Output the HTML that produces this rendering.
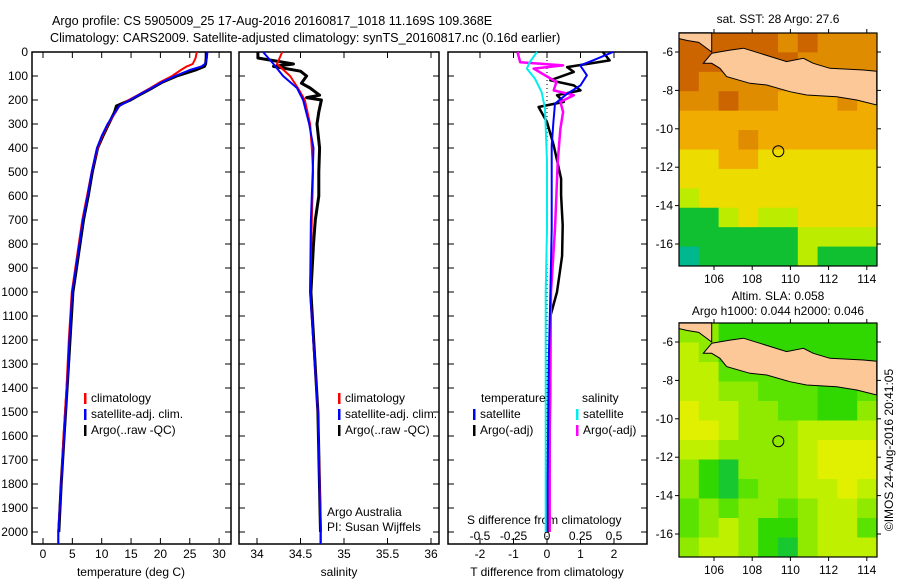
<!DOCTYPE html>
<html><head><meta charset="utf-8"><style>
html,body{margin:0;padding:0;background:#fff;}
svg{display:block;font-family:"Liberation Sans",sans-serif;}
text{font-size:12px;fill:#000;}
</style></head><body>
<svg id="chart" width="900" height="580" viewBox="0 0 900 580" xmlns="http://www.w3.org/2000/svg">
<text x="52" y="25" style="font-size:12.6px">Argo profile: CS 5905009_25 17-Aug-2016 20160817_1018 11.169S 109.368E</text>
<text x="50" y="42" style="font-size:12.6px">Climatology: CARS2009. Satellite-adjusted climatology: synTS_20160817.nc (0.16d earlier)</text>
<g id="g"></g>
</svg>
<script>
// ---------- data ----------
const depthTicks=[0,100,200,300,400,500,600,700,800,900,1000,1100,1200,1300,1400,1500,1600,1700,1800,1900,2000];
const tTicks=[0,5,10,15,20,25,30];
const sTicks=[34,34.5,35,35.5,36];
const tdTicks=[-2,-1,0,1,2];
const sdTicks=[-0.5,-0.25,0,0.25,0.5];
const sdTickLabels=["-0.5","-0.25","0","0.25","0.5"];
const tDepth=[0,25,50,60,75,100,125,150,175,200,225,250,300,350,400,500,600,700,800,900,1000,1200,1400,1600,1800,2000,2050];
const tClim=[26.2,26.0,25.5,24.5,23.5,22.0,20.0,18.3,16.5,14.6,13.0,12.4,11.1,10.1,9.3,8.3,7.5,6.7,6.1,5.5,4.9,4.4,4.0,3.5,3.1,2.6,2.6];
const tSat=[28,27.9,27.6,27,25,22.5,20.3,18.5,16.6,14.8,13.0,12.3,11.0,10.0,9.2,8.3,7.6,6.8,6.2,5.6,5.0,4.5,4.1,3.6,3.1,2.6,2.6];
const tArgo=[27.8,27.8,27.7,27.5,26,22.8,20.4,18.6,16.7,14.9,12.5,12.2,11.2,10.2,9.3,8.4,7.7,6.9,6.3,5.7,5.1,4.6,4.1,3.6,3.1,2.7];
const sDepth=[0,50,100,150,200,300,400,500,700,1000,1500,2000,2050];
const sClim=[34.29,34.23,34.38,34.47,34.55,34.61,34.63,34.645,34.63,34.61,34.70,34.735,34.735];
const sSat=[34.07,34.19,34.3,34.46,34.53,34.6,34.65,34.64,34.62,34.61,34.70,34.73,34.73];
const sArgoDepth=[0,25,50,60,80,100,130,150,180,190,200,250,300,400,500,600,700,800,1000,1500,2000];
const sArgo=[34.01,34.01,34.42,34.19,34.5,34.57,34.51,34.61,34.72,34.57,34.74,34.71,34.69,34.72,34.71,34.71,34.67,34.65,34.62,34.70,34.73];
const tdSatDepth=[0,35,56,97,139,174,215,292,389,528,736,1000,1300,1600,2000];
const tdSat=[1.97,1.37,0.99,1.19,1.0,0.6,0.24,0.19,0.14,0.14,0.14,0.1,0.05,0.03,0.0];
const tdArgoDepth=[0,35,63,83,118,139,160,180,208,229,292,389,528,597,722,850,1000,1100,1300,1600,2000];
const tdArgo=[1.67,1.87,0.6,0.8,0.1,0.8,1.0,0.3,0.5,-0.25,0.0,0.2,0.42,0.42,0.47,0.45,0.3,0.1,0.1,0.08,0.05];
const sdSatDepth=[0,43,69,111,167,236,458,736,1000,1500,2000];
const sdSat=[-0.075,-0.13,-0.15,-0.09,-0.04,-0.015,0,0,-0.01,-0.01,-0.01];
const sdArgoDepth=[0,43,56,69,125,160,180,208,250,319,458,597,736,1000,1500,2000];
const sdArgo=[-0.22,-0.2,0.12,-0.1,0.07,0.05,0.2,0.1,0.12,0.1,0.08,0.07,0.06,0.03,0.02,0.02];
const lonTicks=[106,108,110,112,114];
const latTicks=[-6,-8,-10,-12,-14,-16];
const sstGrid=[
[0,0,0,0,0,1,0,1,1,1],
[0,0,0,0,0,0,1,1,1,1],
[0,1,1,1,1,1,1,1,1,1],
[1,1,0,1,1,2,2,2,1,2],
[2,2,2,2,2,2,2,2,2,2],
[2,2,2,1,2,2,2,2,2,2],
[3,3,2,2,3,3,3,3,3,3],
[3,3,3,3,3,3,3,3,3,3],
[4,3,3,3,3,3,3,3,3,3],
[5,5,4,3,4,4,3,3,3,3],
[5,5,5,5,5,5,4,4,4,4],
[6,5,5,5,5,5,4,5,5,5]];
const slaGrid=[
[2,2,4,4,4,4,4,4,4,4],
[1,2,4,4,4,4,4,4,4,4],
[1,1,3,3,3,3,4,4,4,4],
[1,1,2,2,3,3,3,4,4,3],
[0,1,1,2,2,3,3,4,4,2],
[0,0,1,2,2,2,1,1,1,1],
[1,1,2,2,2,2,1,0,0,0],
[2,4,5,2,2,2,1,0,0,0],
[2,4,5,3,2,2,1,1,0,1],
[3,2,3,2,2,3,2,1,1,2],
[3,2,1,2,4,4,2,1,1,3],
[2,1,1,2,4,5,2,1,1,1]];
const javaLon=[105.88,106.84,107.54,108.41,109.8,110.68,111.2,112.07,113.82,114.52,114.52,113.47,112.42,110.85,109.98,108.76,107.88,106.66,106.31,105.88,105.44];
const javaLat=[-6.07,-5.9,-5.8,-6.07,-6.5,-6.33,-6.59,-6.85,-6.94,-7.0,-8.76,-8.5,-8.33,-8.24,-8.07,-7.72,-7.63,-7.28,-6.85,-6.59,-6.59];
const sumLon=[104.17,105.88,105.88,105.2,104.6,104.17];
const sumLat=[-5.0,-5.0,-6.0,-5.5,-5.4,-5.3];
const argoLon=109.368, argoLat=-11.169;

// ---------- helpers ----------
const NS="http://www.w3.org/2000/svg";
const G=document.getElementById('g');
function mk(tag,attrs,parent){const e=document.createElementNS(NS,tag);for(const k in attrs)e.setAttribute(k,attrs[k]);(parent||G).appendChild(e);return e;}
function txt(x,y,s,anchor,name,extra){const e=mk('text',Object.assign({x:x,y:y,'text-anchor':anchor||'start'},extra||{}));e.textContent=s;


return e;}
const y0=52, yTop=52, yBot=544;
const yD=d=>y0+d*0.24;
const xT=t=>43+t*5.87, xS=s=>257+(s-34)*87, xTd=v=>547+v*33.5, xSd=v=>547+v*134;
const panels=[[32,231],[239,439],[448,647]];

panels.forEach((p,i)=>{
  const r=mk('rect',{x:p[0],y:yTop,width:p[1]-p[0],height:yBot-yTop,fill:'none',stroke:'#000','stroke-width':1.5});
  
  
  depthTicks.forEach(d=>{
    mk('line',{x1:p[0],x2:p[0]+6,y1:yD(d),y2:yD(d),stroke:'#000'});
    mk('line',{x1:p[1]-6,x2:p[1],y1:yD(d),y2:yD(d),stroke:'#000'});
  });
});
depthTicks.forEach(d=>txt(28,yD(d)+4,String(d),'end','depth-tick-label'));

function xticks(arr,fx,labels,ly,name){arr.forEach((v,i)=>{
  mk('line',{x1:fx(v),x2:fx(v),y1:yBot-6,y2:yBot,stroke:'#000'});
  mk('line',{x1:fx(v),x2:fx(v),y1:yTop,y2:yTop+6,stroke:'#000'});
  if(labels)txt(fx(v),ly,labels[i],'middle',name);});}
xticks(tTicks,xT,tTicks.map(String),558,'temperature-tick-label');
xticks(sTicks,xS,sTicks.map(String),558,'salinity-tick-label');
xticks(tdTicks,xTd,tdTicks.map(String),558,'t-diff-tick-label');
sdTicks.forEach((v,i)=>txt(xSd(v),540,sdTickLabels[i],'middle','s-diff-tick-label'));
txt(131,576,'temperature (deg C)','middle','temperature-axis-title');
txt(339,576,'salinity','middle','salinity-axis-title');
txt(547,576,'T difference from climatology','middle','t-diff-axis-title');
txt(467,524,'S difference from climatology','start','s-diff-axis-title');
mk('line',{x1:xTd(0),x2:xTd(0),y1:yTop,y2:yBot,stroke:'#000','stroke-dasharray':'1,3'});

function line(depths,vals,fx,color,w,name){
  const pts=vals.map((v,i)=>fx(v).toFixed(1)+','+yD(depths[i]).toFixed(1)).join(' ');
  const e=mk('polyline',{points:pts,fill:'none',stroke:color,'stroke-width':w,'stroke-linejoin':'round'});
  
  
}
line(tDepth.slice(0,tArgo.length),tArgo,xT,'#000',3,'temp-argo-line');
line(tDepth,tClim,xT,'#f00',2,'temp-climatology-line');
line(tDepth,tSat,xT,'#00f',2,'temp-satellite-line');
line(sArgoDepth,sArgo,xS,'#000',3,'sal-argo-line');
line(sDepth,sClim,xS,'#f00',2,'sal-climatology-line');
line(sDepth,sSat,xS,'#00f',2,'sal-satellite-line');
line(tdArgoDepth,tdArgo,xTd,'#000',2.5,'tdiff-argo-line');
line(sdArgoDepth,sdArgo,xSd,'#f0f',2.5,'sdiff-argo-line');
line(tdSatDepth,tdSat,xTd,'#00f',2,'tdiff-satellite-line');
line(sdSatDepth,sdSat,xSd,'#0ee',2,'sdiff-satellite-line');

function leg(x,y,color,label,name){mk('rect',{x:x,y:y-9,width:2.5,height:11,fill:color});txt(x+7,y,label,'start',name);}
leg(84,402,'#f00','climatology','legend-climatology');
leg(84,418,'#00f','satellite-adj. clim.','legend-satellite');
leg(84,434,'#000','Argo(..raw -QC)','legend-argo');
leg(338,402,'#f00','climatology','legend-climatology-2');
leg(338,418,'#00f','satellite-adj. clim.','legend-satellite-2');
leg(338,434,'#000','Argo(..raw -QC)','legend-argo-2');
txt(481,402,'temperature','start','legend-temperature-header');
txt(582,402,'salinity','start','legend-salinity-header');
leg(473,418,'#00f','satellite','legend-t-satellite');
leg(473,434,'#000','Argo(-adj)','legend-t-argo');
leg(576,418,'#0ee','satellite','legend-s-satellite');
leg(576,434,'#f0f','Argo(-adj)','legend-s-argo');
txt(327,516,'Argo Australia','start','credit-argo-australia');
txt(327,531,'PI: Susan Wijffels','start','credit-pi');

// ---------- maps ----------
const mapX0=679,mapX1=877;
const lonX=lo=>714+(lo-106)*19.1;
const sstColors=['#cc6400','#e08c00','#f0ac00','#ecdc00','#bcec00','#10c030','#00b890'];
const slaColors=['#e0f000','#bff000','#90ea00','#5ae200','#30d800','#18c830'];
function drawMap(top,bottom,grid,colors,name){
  const latY=la=>top+19+(-6-la)*19.2;
  const g=mk('g',{});
  
  
  const cw=(mapX1-mapX0)/grid[0].length, ch=(bottom-top)/grid.length;
  grid.forEach((row,r)=>row.forEach((v,c)=>{
    mk('rect',{x:mapX0+c*cw,y:top+r*ch,width:cw+0.5,height:ch+0.5,fill:colors[v]},g);
  }));
  const poly=(lons,lats,n)=>{const e=mk('polygon',{points:lons.map((lo,i)=>lonX(lo).toFixed(1)+','+latY(lats[i]).toFixed(1)).join(' '),fill:'#fdc898',stroke:'#000','stroke-width':1},g);
    
    };
  poly(javaLon,javaLat,'java-land');
  poly(sumLon,sumLat,'sumatra-land');
  const c=mk('circle',{cx:lonX(argoLon),cy:latY(argoLat),r:5.5,fill:'none',stroke:'#000','stroke-width':1},g);
  
  
  mk('rect',{x:mapX0,y:top,width:mapX1-mapX0,height:bottom-top,fill:'none',stroke:'#000','stroke-width':1.2},g);
  lonTicks.forEach(lo=>{mk('line',{x1:lonX(lo),x2:lonX(lo),y1:top,y2:top-4,stroke:'#000'});mk('line',{x1:lonX(lo),x2:lonX(lo),y1:bottom,y2:bottom+4,stroke:'#000'});
    txt(lonX(lo),bottom+17,String(lo),'middle','map-lon-tick-label');});
  latTicks.forEach(la=>{mk('line',{x1:mapX0-4,x2:mapX0,y1:latY(la),y2:latY(la),stroke:'#000'});mk('line',{x1:mapX1,x2:mapX1+4,y1:latY(la),y2:latY(la),stroke:'#000'});
    txt(mapX0-6,latY(la)+4,String(la),'end','map-lat-tick-label');});
}
drawMap(33,266,sstGrid,sstColors,'sst-map');
drawMap(323,557,slaGrid,slaColors,'sla-map');
txt(778,23,'sat. SST: 28 Argo: 27.6','middle','sst-map-title');
txt(778,300,'Altim. SLA: 0.058','middle','sla-map-title');
txt(778,315,'Argo h1000: 0.044 h2000: 0.046','middle','sla-map-subtitle');
txt(0,0,'©IMOS 24-Aug-2016 20:41:05','middle','imos-timestamp',{transform:'translate(893,450) rotate(-90)'});
</script>
</body></html>
